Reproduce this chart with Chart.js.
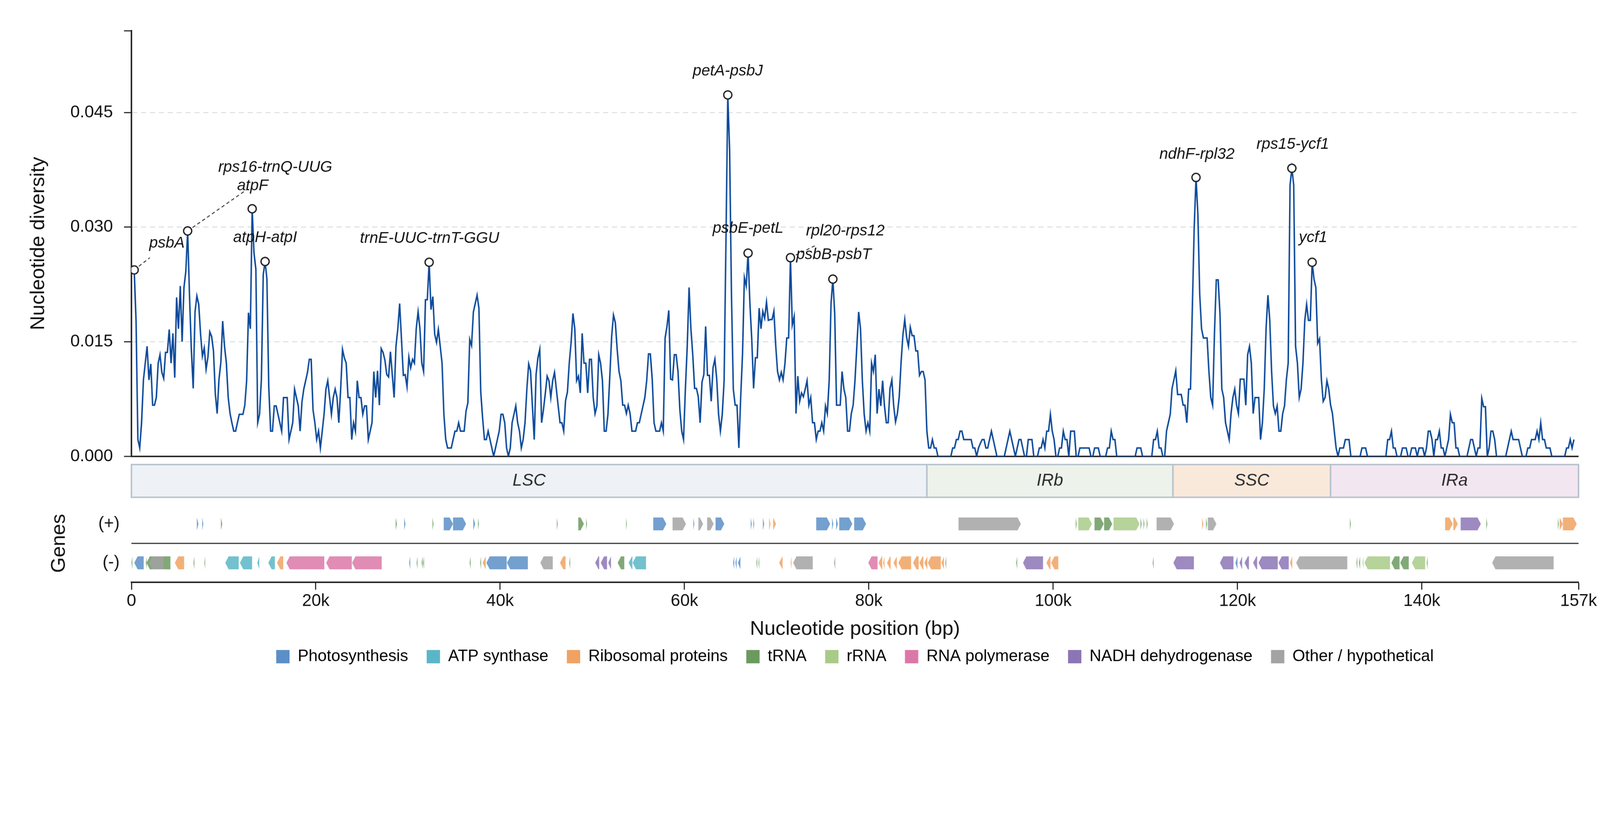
<!DOCTYPE html>
<html>
<head>
<meta charset="utf-8">
<title>Nucleotide diversity</title>
<script src="https://cdn.jsdelivr.net/npm/chart.js@4.4.1/dist/chart.umd.min.js"></script>
<style>
  html, body { margin: 0; padding: 0; background: #fff; overflow: hidden; }
  #wrap { position: relative; width: 4322px; height: 2102px; transform-origin: 0 0; }
</style>
</head>
<body>
<div id="wrap"><canvas id="pi"></canvas></div>
<script>
// sliding window: 600 bp window, 200 bp step
const WINDOW_START = 300;
const WINDOW_STEP = 200;

// Pi values per window
const diversity = [
  // 0.3 - 27.1 kb
  0.0244,0.0178,0.0022,0.0011,0.0044,0.0100,0.0122,0.0144,0.0100,0.0121,
  0.0067,0.0067,0.0077,0.0122,0.0133,0.0110,0.0102,0.0136,0.0136,0.0166,
  0.0122,0.0161,0.0103,0.0208,0.0167,0.0223,0.0150,0.0221,0.0242,0.0295,
  0.0211,0.0140,0.0089,0.0189,0.0210,0.0199,0.0160,0.0131,0.0142,0.0114,
  0.0130,0.0163,0.0157,0.0138,0.0082,0.0056,0.0101,0.0123,0.0177,0.0144,
  0.0122,0.0077,0.0056,0.0044,0.0033,0.0033,0.0044,0.0055,0.0055,0.0055,
  0.0067,0.0099,0.0188,0.0167,0.0324,0.0266,0.0245,0.0044,0.0055,0.0101,
  0.0238,0.0255,0.0232,0.0091,0.0033,0.0033,0.0066,0.0066,0.0055,0.0044,
  0.0033,0.0077,0.0077,0.0077,0.0022,0.0033,0.0044,0.0088,0.0077,0.0066,
  0.0033,0.0071,0.0088,0.0099,0.0110,0.0127,0.0127,0.0061,0.0044,0.0022,
  0.0033,0.0011,0.0033,0.0055,0.0088,0.0099,0.0077,0.0055,0.0077,0.0088,
  0.0077,0.0044,0.0088,0.0140,0.0129,0.0122,0.0077,0.0077,0.0022,0.0044,
  0.0033,0.0099,0.0077,0.0077,0.0055,0.0066,0.0066,0.0022,0.0033,0.0044,
  0.0111,0.0077,0.0112,0.0067,0.0141,
  // 27.3 - 53.9 kb
  0.0136,0.0126,0.0107,0.0104,0.0137,0.0107,0.0077,0.0144,0.0167,0.0200,
  0.0153,0.0106,0.0107,0.0091,0.0130,0.0116,0.0127,0.0122,0.0167,0.0189,
  0.0167,0.0122,0.0111,0.0205,0.0205,0.0254,0.0192,0.0209,0.0160,0.0149,
  0.0166,0.0144,0.0122,0.0055,0.0022,0.0011,0.0011,0.0011,0.0022,0.0033,
  0.0033,0.0044,0.0033,0.0033,0.0033,0.0059,0.0070,0.0153,0.0145,0.0189,
  0.0200,0.0211,0.0194,0.0084,0.0050,0.0022,0.0022,0.0033,0.0022,0.0011,
  0.0000,0.0011,0.0022,0.0033,0.0055,0.0055,0.0044,0.0011,0.0000,0.0011,
  0.0044,0.0055,0.0066,0.0044,0.0033,0.0011,0.0022,0.0044,0.0088,0.0121,
  0.0112,0.0066,0.0022,0.0107,0.0129,0.0140,0.0044,0.0061,0.0082,0.0105,
  0.0099,0.0077,0.0099,0.0110,0.0088,0.0066,0.0044,0.0044,0.0033,0.0073,
  0.0084,0.0122,0.0149,0.0187,0.0167,0.0099,0.0105,0.0083,0.0161,0.0122,
  0.0122,0.0083,0.0127,0.0127,0.0077,0.0056,0.0066,0.0133,0.0122,0.0099,
  0.0033,0.0033,0.0055,0.0105,0.0157,0.0185,0.0175,0.0140,0.0111,0.0099,
  0.0067,0.0067,0.0056,0.0067,
  // 54.1 - 81.5 kb
  0.0056,0.0033,0.0033,0.0033,0.0044,0.0044,0.0055,0.0066,0.0077,0.0099,
  0.0134,0.0134,0.0101,0.0044,0.0033,0.0033,0.0033,0.0044,0.0033,0.0155,
  0.0170,0.0191,0.0101,0.0100,0.0133,0.0133,0.0111,0.0061,0.0033,0.0022,
  0.0088,0.0144,0.0221,0.0167,0.0133,0.0089,0.0089,0.0078,0.0044,0.0097,
  0.0107,0.0170,0.0106,0.0106,0.0072,0.0116,0.0127,0.0101,0.0055,0.0033,
  0.0055,0.0099,0.0280,0.0473,0.0400,0.0210,0.0088,0.0067,0.0067,0.0011,
  0.0077,0.0134,0.0234,0.0223,0.0266,0.0200,0.0153,0.0089,0.0129,0.0129,
  0.0194,0.0167,0.0190,0.0181,0.0202,0.0178,0.0179,0.0179,0.0190,0.0145,
  0.0111,0.0100,0.0110,0.0100,0.0121,0.0155,0.0155,0.0260,0.0172,0.0183,
  0.0056,0.0105,0.0072,0.0083,0.0078,0.0088,0.0099,0.0067,0.0077,0.0044,
  0.0044,0.0022,0.0033,0.0033,0.0044,0.0033,0.0066,0.0056,0.0099,0.0200,
  0.0232,0.0187,0.0067,0.0067,0.0067,0.0111,0.0088,0.0077,0.0033,0.0033,
  0.0056,0.0067,0.0099,0.0144,0.0189,0.0167,0.0099,0.0055,0.0033,0.0044,
  0.0033,0.0122,0.0111,0.0133,0.0056,0.0088,0.0066,0.0099,
  // 81.7 - 109.3 kb
  0.0066,0.0044,0.0044,0.0089,0.0100,0.0066,0.0045,0.0056,0.0078,0.0123,
  0.0159,0.0179,0.0156,0.0144,0.0169,0.0158,0.0158,0.0138,0.0138,0.0106,
  0.0111,0.0111,0.0100,0.0033,0.0011,0.0011,0.0022,0.0011,0.0011,0.0000,
  0.0000,0.0000,0.0000,0.0000,0.0000,0.0000,0.0000,0.0011,0.0011,0.0022,
  0.0022,0.0033,0.0033,0.0022,0.0022,0.0022,0.0022,0.0022,0.0011,0.0011,
  0.0000,0.0011,0.0017,0.0022,0.0022,0.0011,0.0011,0.0022,0.0033,0.0022,
  0.0011,0.0000,0.0000,0.0000,0.0000,0.0000,0.0011,0.0022,0.0033,0.0022,
  0.0011,0.0000,0.0011,0.0022,0.0022,0.0011,0.0000,0.0000,0.0022,0.0022,
  0.0022,0.0000,0.0000,0.0000,0.0011,0.0011,0.0022,0.0011,0.0033,0.0033,
  0.0055,0.0033,0.0022,0.0000,0.0000,0.0011,0.0011,0.0033,0.0022,0.0022,
  0.0000,0.0033,0.0033,0.0033,0.0000,0.0000,0.0011,0.0011,0.0011,0.0011,
  0.0011,0.0011,0.0000,0.0000,0.0011,0.0011,0.0011,0.0000,0.0000,0.0000,
  0.0000,0.0011,0.0011,0.0033,0.0022,0.0022,0.0000,0.0000,0.0000,0.0000,
  0.0000,0.0000,0.0000,0.0000,0.0000,0.0000,0.0000,0.0011,0.0011,
  // 109.5 - 136.9 kb
  0.0011,0.0000,0.0000,0.0000,0.0000,0.0000,0.0000,0.0022,0.0022,0.0033,
  0.0011,0.0011,0.0000,0.0000,0.0033,0.0044,0.0055,0.0089,0.0100,0.0112,
  0.0081,0.0081,0.0081,0.0067,0.0067,0.0044,0.0088,0.0088,0.0194,0.0298,
  0.0365,0.0317,0.0212,0.0167,0.0155,0.0155,0.0155,0.0111,0.0077,0.0067,
  0.0161,0.0231,0.0231,0.0186,0.0088,0.0077,0.0044,0.0033,0.0022,0.0056,
  0.0077,0.0088,0.0067,0.0056,0.0101,0.0101,0.0101,0.0067,0.0133,0.0144,
  0.0122,0.0056,0.0077,0.0077,0.0077,0.0022,0.0044,0.0088,0.0167,0.0211,
  0.0178,0.0111,0.0066,0.0056,0.0066,0.0033,0.0033,0.0056,0.0066,0.0100,
  0.0122,0.0355,0.0377,0.0355,0.0144,0.0122,0.0077,0.0088,0.0122,0.0178,
  0.0199,0.0178,0.0178,0.0254,0.0232,0.0221,0.0148,0.0154,0.0101,0.0072,
  0.0077,0.0099,0.0088,0.0067,0.0056,0.0033,0.0011,0.0000,0.0011,0.0011,
  0.0011,0.0022,0.0022,0.0022,0.0000,0.0000,0.0000,0.0000,0.0000,0.0000,
  0.0011,0.0011,0.0011,0.0000,0.0000,0.0000,0.0000,0.0000,0.0000,0.0000,
  0.0000,0.0000,0.0000,0.0000,0.0022,0.0022,0.0033,0.0011,
  // 137.1 - 156.5 kb
  0.0011,0.0000,0.0000,0.0000,0.0011,0.0011,0.0011,0.0000,0.0000,0.0011,
  0.0011,0.0011,0.0000,0.0011,0.0011,0.0011,0.0000,0.0011,0.0033,0.0033,
  0.0022,0.0000,0.0022,0.0022,0.0033,0.0011,0.0011,0.0000,0.0011,0.0022,
  0.0055,0.0044,0.0044,0.0011,0.0011,0.0000,0.0000,0.0000,0.0000,0.0000,
  0.0011,0.0022,0.0022,0.0011,0.0000,0.0011,0.0011,0.0076,0.0065,0.0065,
  0.0000,0.0011,0.0033,0.0033,0.0022,0.0000,0.0000,0.0000,0.0000,0.0000,
  0.0000,0.0011,0.0022,0.0033,0.0022,0.0022,0.0022,0.0022,0.0011,0.0000,
  0.0000,0.0000,0.0011,0.0011,0.0022,0.0022,0.0022,0.0033,0.0022,0.0044,
  0.0022,0.0022,0.0011,0.0011,0.0011,0.0000,0.0000,0.0000,0.0000,0.0000,
  0.0000,0.0000,0.0000,0.0011,0.0011,0.0022,0.0011,0.0022
];
const positions = diversity.map((_, i) => WINDOW_START + i * WINDOW_STEP);

// highlighted hotspots (window index) and their labels
const peakIndex = [0, 29, 64, 71, 160, 322, 333, 356, 379, 576, 628, 639];
const peakNames = ['psbA', 'rps16-trnQ-UUG', 'atpF', 'atpH-atpI', 'trnE-UUC-trnT-GGU', 'petA-psbJ',
  'psbE-petL', 'rpl20-rps12', 'psbB-psbT', 'ndhF-rpl32', 'rps15-ycf1', 'ycf1'];
// label anchor (kb, pi) and leader end (null = no leader)
const labelKb = [3.85, 15.6, 13.15, 14.5, 32.35, 64.7, 66.9, 77.45, 76.2, 115.6, 126.0, 128.2];
const labelPi = [0.0279, 0.0378, 0.0354, 0.0286, 0.0285, 0.0504, 0.0298, 0.0295, 0.0264, 0.0395, 0.0408, 0.0286];
const leaderKb = [2.0, 12.5, null, null, null, null, null, 74.4, null, null, null, null];
const leaderPi = [0.0260, 0.0349, null, null, null, null, null, 0.0277, null, null, null, null];

// quadripartite regions (kb)
const regionNames = ['LSC', 'IRb', 'SSC', 'IRa'];
const regionStart = [0, 86.3, 113.0, 130.1];
const regionEnd = [86.3, 113.0, 130.1, 157.0];

// gene categories
const catKeys = ['photo', 'atp', 'ribo', 'trna', 'rrna', 'rpo', 'ndh', 'other'];
const catNames = ['Photosynthesis', 'ATP synthase', 'Ribosomal proteins', 'tRNA', 'rRNA',
  'RNA polymerase', 'NADH dehydrogenase', 'Other / hypothetical'];
const catColors = ['#5b8fc7', '#5ab6c6', '#f0a262', '#6b9a5f', '#a9cb88', '#dc78a8', '#8c75b5', '#a3a3a3'];

// genes on the (+) strand: [start kb, end kb, category]
const plusGenes = [
  [7.10, 7.27, 'photo'], [7.68, 7.80, 'photo'], [9.71, 9.85, 'trna'],
  [28.67, 28.80, 'trna'], [29.59, 29.73, 'photo'], [32.66, 32.77, 'trna'],
  [33.88, 34.89, 'photo'], [34.89, 36.31, 'photo'], [37.09, 37.29, 'photo'], [37.60, 37.70, 'trna'],
  [46.15, 46.25, 'trna'], [48.48, 49.09, 'trna'], [49.33, 49.43, 'trna'],
  [53.67, 53.75, 'trna'], [56.61, 58.03, 'photo'], [58.71, 60.16, 'other'], [60.97, 61.07, 'photo'],
  [61.51, 62.02, 'other'], [62.46, 63.17, 'other'], [63.37, 64.32, 'photo'],
  [67.19, 67.30, 'photo'], [67.47, 67.57, 'photo'], [68.51, 68.65, 'photo'], [69.18, 69.33, 'ribo'], [69.62, 69.93, 'ribo'],
  [74.29, 75.81, 'photo'], [76.01, 76.15, 'photo'], [76.45, 76.65, 'photo'], [76.79, 78.21, 'photo'], [78.41, 79.70, 'photo'],
  [89.73, 96.50, 'other'],
  [102.45, 102.55, 'trna'], [102.72, 104.21, 'rrna'], [104.49, 105.49, 'trna'], [105.53, 106.41, 'trna'], [106.55, 109.37, 'rrna'],
  [109.48, 109.60, 'trna'], [109.80, 109.90, 'trna'], [110.15, 110.25, 'trna'], [111.22, 113.11, 'other'],
  [116.16, 116.30, 'ribo'], [116.58, 116.70, 'trna'], [116.78, 117.71, 'other'],
  [132.20, 132.30, 'trna'], [142.52, 143.35, 'ribo'], [143.42, 143.90, 'ribo'], [144.21, 146.40, 'ndh'], [147.00, 147.10, 'trna'],
  [154.75, 154.85, 'trna'], [154.95, 155.30, 'ribo'], [155.30, 156.80, 'ribo']
];
// genes on the (-) strand
const minusGenes = [
  [0.00, 0.10, 'trna'], [0.31, 1.33, 'photo'], [1.56, 1.66, 'trna'], [1.63, 4.23, 'trna'], [1.93, 3.45, 'other'], [4.71, 5.72, 'ribo'],
  [6.73, 6.83, 'trna'], [7.92, 8.00, 'trna'], [10.18, 11.64, 'atp'], [11.77, 13.09, 'atp'], [13.66, 13.87, 'atp'], [14.85, 15.56, 'atp'],
  [15.79, 16.47, 'ribo'], [16.81, 20.93, 'rpo'], [21.13, 23.91, 'rpo'], [23.94, 27.15, 'rpo'],
  [30.13, 30.25, 'photo'], [30.94, 31.04, 'trna'], [31.48, 31.60, 'trna'], [31.65, 31.75, 'trna'],
  [36.69, 36.80, 'trna'], [37.84, 37.94, 'trna'], [38.10, 38.44, 'ribo'], [38.51, 40.71, 'photo'], [40.74, 43.01, 'photo'],
  [44.36, 45.71, 'other'], [46.49, 47.10, 'ribo'], [47.50, 47.60, 'trna'],
  [50.31, 50.75, 'ndh'], [50.92, 51.60, 'ndh'], [51.73, 52.03, 'ndh'],
  [52.75, 53.47, 'trna'], [53.94, 54.35, 'atp'], [54.38, 55.83, 'atp'],
  [65.27, 65.40, 'photo'], [65.53, 65.66, 'photo'], [65.80, 66.07, 'photo'], [67.80, 67.90, 'trna'], [68.03, 68.10, 'trna'],
  [70.27, 70.64, 'ribo'], [71.52, 71.62, 'ribo'], [71.79, 73.92, 'other'], [76.22, 76.36, 'other'],
  [79.94, 80.95, 'rpo'], [81.05, 81.46, 'ribo'], [81.56, 81.70, 'ribo'], [81.97, 82.37, 'ribo'], [82.68, 83.04, 'ribo'],
  [83.21, 84.59, 'ribo'], [84.80, 85.41, 'ribo'], [85.48, 85.92, 'ribo'], [86.02, 86.35, 'ribo'], [86.40, 87.81, 'ribo'], [87.88, 88.15, 'ribo'],
  [88.30, 88.40, 'trna'], [95.99, 96.10, 'trna'], [96.73, 98.90, 'ndh'], [99.27, 99.71, 'ribo'], [99.78, 100.56, 'ribo'],
  [110.80, 110.90, 'trna'], [113.04, 115.27, 'ndh'], [118.09, 119.56, 'ndh'], [119.77, 120.00, 'photo'], [120.22, 120.50, 'ndh'],
  [120.76, 121.24, 'ndh'], [121.69, 122.13, 'ndh'], [122.28, 124.37, 'ndh'], [124.44, 125.56, 'ndh'], [125.70, 125.94, 'ribo'],
  [126.36, 131.91, 'other'], [132.90, 133.00, 'trna'], [133.18, 133.30, 'trna'], [133.57, 133.67, 'rrna'], [133.77, 136.55, 'rrna'],
  [136.69, 137.58, 'trna'], [137.65, 138.58, 'trna'], [138.92, 140.36, 'rrna'], [140.53, 140.63, 'trna'], [147.63, 154.30, 'other']
];

const xTicks = [0, 20000, 40000, 60000, 80000, 100000, 120000, 140000, 157000];
const yTicks = [0, 0.015, 0.030, 0.045];

// ---- layout constants (px on a 4322 x 2102 page / track units) ----
const FONT = "'Liberation Sans', Arial, sans-serif";
const Y_MAX = 0.0557;
const TRACK_MAX = 123;          // lower panel units, 0 = x axis
const REGION_TOP = 115, REGION_BOT = 83;
const PLUS_Y = 57, MINUS_Y = 19, STRAND_SEP = 38, GENE_HALF = 6.3;
const HEAD = 9;
const regionFill = ['#eef2f6', '#edf2eb', '#f9e9db', '#f2e6f1'];

// keep the 4322 x 2102 design when the css viewport is smaller (uniform scale)
const wrap = document.getElementById('wrap');
const fit = window.innerWidth / 4322;
if (Math.abs(fit - 1) > 0.002) {
  wrap.style.transform = 'scale(' + fit + ')';
}

const catColor = (k) => catColors[catKeys.indexOf(k)];

function drawGene(ctx, x0, x1, yc, half, strand) {
  if (x1 - x0 < 2) x1 = x0 + 2;
  const h = Math.min(HEAD, x1 - x0);
  ctx.beginPath();
  if (strand > 0) {
    ctx.moveTo(x0, yc - half);
    ctx.lineTo(x1 - h, yc - half);
    ctx.lineTo(x1, yc);
    ctx.lineTo(x1 - h, yc + half);
    ctx.lineTo(x0, yc + half);
  } else {
    ctx.moveTo(x1, yc - half);
    ctx.lineTo(x0 + h, yc - half);
    ctx.lineTo(x0, yc);
    ctx.lineTo(x0 + h, yc + half);
    ctx.lineTo(x1, yc + half);
  }
  ctx.closePath();
  ctx.fill();
}

const trackPlugin = {
  id: 'tracks',
  beforeDatasetsDraw(chart) {
    const { ctx, chartArea, scales } = chart;
    const x = scales.x, y = scales.y, t = scales.yLow;
    ctx.save();
    // region bar
    const rt = t.getPixelForValue(REGION_TOP), rb = t.getPixelForValue(REGION_BOT);
    regionNames.forEach((name, i) => {
      const x0 = x.getPixelForValue(regionStart[i] * 1000);
      const x1 = x.getPixelForValue(regionEnd[i] * 1000);
      ctx.fillStyle = regionFill[i];
      ctx.fillRect(x0, rt, x1 - x0, rb - rt);
      ctx.strokeStyle = '#b8c2cc';
      ctx.lineWidth = 4;
      ctx.strokeRect(x0, rt, x1 - x0, rb - rt);
      ctx.fillStyle = '#2a2a2a';
      ctx.font = 'italic 46px ' + FONT;
      ctx.textAlign = 'center';
      ctx.textBaseline = 'middle';
      ctx.fillText(name, (x0 + x1) / 2, (rt + rb) / 2);
    });
    // strand separator
    const sepY = t.getPixelForValue(STRAND_SEP);
    ctx.strokeStyle = '#2b2b2b';
    ctx.lineWidth = 3;
    ctx.beginPath();
    ctx.moveTo(chartArea.left, sepY);
    ctx.lineTo(chartArea.right, sepY);
    ctx.stroke();
    // genes
    const half = t.getPixelForValue(0) - t.getPixelForValue(GENE_HALF);
    ctx.globalAlpha = 0.85;
    [[plusGenes, PLUS_Y, 1], [minusGenes, MINUS_Y, -1]].forEach(([list, row, strand]) => {
      const yc = t.getPixelForValue(row);
      list.forEach(([s, e, cat]) => {
        ctx.fillStyle = catColor(cat);
        drawGene(ctx, x.getPixelForValue(s * 1000), x.getPixelForValue(e * 1000), yc, half, strand);
      });
    });
    ctx.globalAlpha = 1;
    // strand labels
    ctx.fillStyle = '#111';
    ctx.font = '46px ' + FONT;
    ctx.textAlign = 'right';
    ctx.textBaseline = 'middle';
    ctx.fillText('(+)', 323, t.getPixelForValue(PLUS_Y));
    ctx.fillText('(-)', 323, t.getPixelForValue(MINUS_Y));
    ctx.save();
    ctx.translate(160, sepY);
    ctx.rotate(-Math.PI / 2);
    ctx.textAlign = 'center';
    ctx.font = '54px ' + FONT;
    ctx.fillText('Genes', 0, 0);
    ctx.restore();
    // leader lines for shifted labels
    ctx.strokeStyle = '#333';
    ctx.lineWidth = 2.5;
    ctx.setLineDash([9, 7]);
    peakIndex.forEach((idx, i) => {
      if (leaderKb[i] == null) return;
      ctx.beginPath();
      ctx.moveTo(x.getPixelForValue(positions[idx]), y.getPixelForValue(diversity[idx]));
      ctx.lineTo(x.getPixelForValue(leaderKb[i] * 1000), y.getPixelForValue(leaderPi[i]));
      ctx.stroke();
    });
    ctx.restore();
  },
  afterDatasetsDraw(chart) {
    const { ctx, scales: { x, y } } = chart;
    ctx.save();
    ctx.fillStyle = '#111';
    ctx.font = 'italic 42px ' + FONT;
    ctx.textAlign = 'center';
    ctx.textBaseline = 'middle';
    peakNames.forEach((name, i) => {
      ctx.fillText(name, x.getPixelForValue(labelKb[i] * 1000), y.getPixelForValue(labelPi[i]));
    });
    ctx.restore();
  }
};

const peakSet = new Set(peakIndex);

new Chart(document.getElementById('pi'), {
  type: 'line',
  data: {
    datasets: [{
      label: 'Pi',
      data: positions.map((p, i) => ({ x: p, y: diversity[i] })),
      borderColor: '#0d4a9b',
      borderWidth: 4,
      tension: 0,
      fill: false,
      pointRadius: (c) => (peakSet.has(c.dataIndex) ? 11 : 0),
      pointBackgroundColor: '#ffffff',
      pointBorderColor: '#222222',
      pointBorderWidth: 3.5,
      yAxisID: 'y'
    }]
  },
  options: {
    responsive: true,
    maintainAspectRatio: false,
    animation: false,
    layout: { padding: { left: 0, right: 58, top: 83, bottom: 296 } },
    scales: {
      x: {
        type: 'linear',
        position: 'bottom',
        min: 0,
        max: 157000,
        afterBuildTicks: (s) => { s.ticks = xTicks.map((v) => ({ value: v })); },
        ticks: {
          autoSkip: false,
          maxRotation: 0,
          padding: 4,
          color: '#111',
          font: { family: FONT, size: 46 },
          callback: (v) => (v === 0 ? '0' : v / 1000 + 'k')
        },
        grid: { drawOnChartArea: false, tickLength: 20, tickColor: '#222', tickWidth: 3 },
        border: { color: '#222', width: 4 },
        title: {
          display: true,
          text: 'Nucleotide position (bp)',
          color: '#111',
          font: { family: FONT, size: 54 },
          padding: { top: 12, bottom: -31 }
        }
      },
      // left stack is laid out in reverse order: lower panel first
      yLow: {
        type: 'linear',
        position: 'left',
        stack: 'left',
        stackWeight: 339,
        min: 0,
        max: TRACK_MAX,
        afterFit: (s) => { s.width = 355; },
        ticks: { display: false },
        grid: { display: false },
        border: { display: false }
      },
      y: {
        type: 'linear',
        position: 'left',
        stack: 'left',
        stackWeight: 1146,
        min: 0,
        max: Y_MAX,
        afterBuildTicks: (s) => { s.ticks = yTicks.concat([Y_MAX]).map((v) => ({ value: v })); },
        afterFit: (s) => { s.width = 355; },
        ticks: {
          padding: 30,
          color: '#111',
          font: { family: FONT, size: 46 },
          callback: (v) => (v === Y_MAX ? '' : v.toFixed(3))
        },
        grid: {
          color: (c) => (c.tick && c.tick.value === 0 ? '#222' : (c.tick && c.tick.value === Y_MAX ? 'rgba(0,0,0,0)' : '#d8dde2')),
          lineWidth: (c) => (c.tick && c.tick.value === 0 ? 4 : 2.5),
          tickLength: 20,
          tickColor: '#222',
          tickWidth: 3
        },
        border: {
          color: '#222',
          width: 4,
          dash: (c) => (c.type === 'tick' && c.tick && c.tick.value !== 0 ? [14, 10] : [])
        },
        title: {
          display: true,
          text: 'Nucleotide diversity',
          color: '#111',
          font: { family: FONT, size: 54 },
          padding: { top: 72, bottom: 0 }
        }
      }
    },
    plugins: {
      legend: {
        position: 'bottom',
        fullSize: false,
        onClick: null,
        labels: {
          boxWidth: 36,
          boxHeight: 36,
          padding: 50,
          color: '#111',
          font: { family: FONT, size: 44 },
          generateLabels: () => catNames.map((name, i) => ({
            text: name,
            fillStyle: catColors[i],
            strokeStyle: catColors[i],
            lineWidth: 0,
            hidden: false,
            index: i
          }))
        }
      },
      tooltip: { enabled: false }
    }
  },
  plugins: [trackPlugin]
});
</script>
</body>
</html>
